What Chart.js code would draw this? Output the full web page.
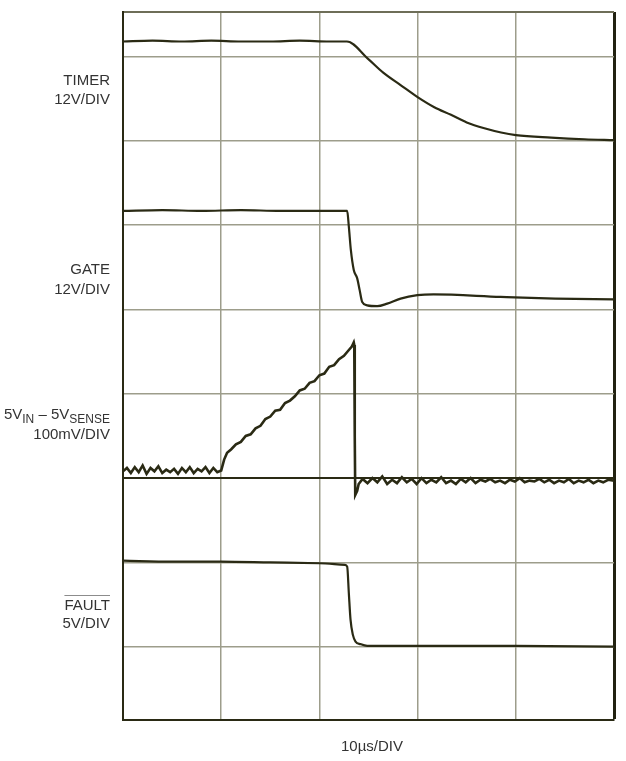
<!DOCTYPE html>
<html>
<head>
<meta charset="utf-8">
<script src="https://cdn.jsdelivr.net/npm/chart.js@4"></script>
<style>
    html, body { margin: 0; padding: 0; background: #fff; }
    #wrap { position: relative; width: 626px; height: 761px; }
    .lbl {
        position: absolute;
        right: 516px;
        font-family: "Liberation Sans", Arial, sans-serif;
        font-size: 15px;
        line-height: 19px;
        color: #333;
        white-space: nowrap;
        text-align: right;
    }
    .lbl sub { font-size: 12px; vertical-align: -4px; line-height: 0; }
    .bar { text-decoration: overline; text-decoration-color: #8c8c8c; }
    #xlbl { position: absolute; left: 302px; width: 140px; top: 736px; text-align: center;
        font-family: "Liberation Sans", Arial, sans-serif; font-size: 15px; line-height: 19px; color: #333; }
</style>
</head>
<body>
<div id="wrap">
    <canvas id="chart"></canvas>
    <div class="lbl" style="top:70px">TIMER</div>
    <div class="lbl" style="top:89px">12V/DIV</div>
    <div class="lbl" style="top:259px">GATE</div>
    <div class="lbl" style="top:279px">12V/DIV</div>
    <div class="lbl" style="top:404px">5V<sub>IN</sub> – 5V<sub>SENSE</sub></div>
    <div class="lbl" style="top:424px">100mV/DIV</div>
    <div class="lbl" style="top:595px"><span class="bar">FAULT</span></div>
    <div class="lbl" style="top:613px">5V/DIV</div>
    <div id="xlbl">10µs/DIV</div>
</div>
<script>
// time in µs, levels in screen divisions (grid row 1 = lowest inner line)
const timeTicks = [0, 10, 20, 30, 40, 50];
const gridRows = [0.13, 1, 2, 3, 4, 5, 6, 7, 8, 8.53];
const zeroRow = 3;

const timerT = [0, 3, 6, 9, 12, 15, 18, 21, 22.8, 24.9, 26.5, 28.3, 30, 31.7, 33.4, 35, 36.8, 38.5, 40, 43.6, 47, 50];
const timerV = [8.18, 8.19, 8.18, 8.19, 8.18, 8.18, 8.19, 8.18, 8.18, 7.98, 7.81, 7.66, 7.52, 7.40, 7.31, 7.22, 7.15, 7.10, 7.07, 7.04, 7.02, 7.01];

const gateT = [0, 4, 8, 12, 16, 20, 22.83, 23.0, 23.2, 23.5, 23.85, 24.1, 24.36, 24.87, 25.89, 26.91, 28.27, 29.97, 31.63, 38.46, 44, 50];
const gateV = [6.17, 6.18, 6.17, 6.18, 6.17, 6.17, 6.17, 5.98, 5.71, 5.47, 5.37, 5.23, 5.09, 5.05, 5.04, 5.07, 5.13, 5.17, 5.18, 5.15, 5.13, 5.12];

const senseT = [
    0, 0.4, 0.8, 1.2, 1.6, 2.0, 2.4, 2.8, 3.2, 3.6, 4.0, 4.4, 4.8, 5.2, 5.6, 6.0, 6.4, 6.8, 7.2, 7.6, 8.0, 8.4, 8.8, 9.2, 9.6, 10.0,
    10.3, 10.6, 11.0, 11.5, 12.0, 12.5, 13.0, 13.5, 14.0, 14.5, 15.0, 15.5, 16.0, 16.5, 17.0, 17.5, 18.0, 18.5, 19.0, 19.5,
    20.0, 20.5, 21.0, 21.5, 22.0, 22.5, 23.0, 23.3, 23.5, 23.55, 23.6, 23.65, 23.85, 24.0,
    24.4, 24.9, 25.4, 25.9, 26.4, 26.9, 27.4, 27.9, 28.4, 28.9, 29.4, 29.9, 30.4, 30.9, 31.4, 31.9, 32.4, 32.9, 33.4, 33.9,
    34.4, 34.9, 35.4, 35.9, 36.4, 36.9, 37.4, 37.9, 38.4, 38.9, 39.4, 39.9, 40.4, 40.9, 41.4, 41.9, 42.4, 42.9, 43.4, 43.9,
    44.4, 44.9, 45.4, 45.9, 46.4, 46.9, 47.4, 47.9, 48.4, 48.9, 49.4, 50.0
];
const senseV = [
    3.08, 3.12, 3.06, 3.13, 3.07, 3.15, 3.05, 3.12, 3.08, 3.14, 3.06, 3.10, 3.07, 3.11, 3.05, 3.12, 3.07, 3.13, 3.06, 3.11, 3.08, 3.13, 3.06, 3.12, 3.07, 3.09,
    3.22, 3.30, 3.34, 3.40, 3.43, 3.50, 3.52, 3.59, 3.62, 3.70, 3.73, 3.80, 3.81, 3.89, 3.92, 3.97, 4.04, 4.06, 4.13, 4.15,
    4.22, 4.24, 4.32, 4.34, 4.41, 4.45, 4.52, 4.56, 4.61, 4.58, 3.50, 2.80, 2.85, 2.93,
    2.99, 2.94, 3.00, 2.95, 3.02, 2.93, 2.98, 2.94, 3.01, 2.95, 2.99, 2.93, 3.00, 2.94, 2.98, 2.95, 3.01, 2.94, 2.97, 2.93,
    2.99, 2.95, 3.00, 2.94, 2.98, 2.96, 2.99, 2.95, 2.97, 2.94, 2.98, 2.96, 3.00, 2.95, 2.97, 2.96, 2.99, 2.95, 2.98, 2.94,
    2.97, 2.95, 2.99, 2.94, 2.97, 2.95, 2.98, 2.94, 2.97, 2.95, 2.98, 2.97
];

const faultT = [0, 5, 10, 15, 20, 22.6, 22.83, 23.0, 23.17, 23.41, 23.68, 24.19, 24.87, 30, 40, 50];
const faultV = [2.02, 2.01, 2.01, 2.00, 1.99, 1.97, 1.95, 1.63, 1.32, 1.14, 1.06, 1.03, 1.01, 1.01, 1.01, 1.00];

const traceColor = '#2a2a14';
const gridColor = '#9d9d8b';

const pts = (ts, vs) => ts.map((t, i) => ({ x: t, y: vs[i] }));

const trace = (label, ts, vs, smooth, width) => ({
    label,
    data: pts(ts, vs),
    borderColor: traceColor,
    borderWidth: width,
    pointRadius: 0,
    cubicInterpolationMode: smooth ? 'monotone' : 'default',
    tension: 0
});

const first = a => a[0];
const last = a => a[a.length - 1];

new Chart(document.getElementById('chart'), {
    type: 'line',
    data: {
        datasets: [
            trace('TIMER', timerT, timerV, true, 2.2),
            trace('GATE', gateT, gateV, true, 2.2),
            trace('SENSE', senseT, senseV, false, 2.6),
            trace('FAULT', faultT, faultV, true, 2.2)
        ]
    },
    options: {
        responsive: true,
        maintainAspectRatio: false,
        animation: false,
        layout: { padding: { left: 123, right: 12, top: 12, bottom: 41 } },
        plugins: { legend: { display: false }, tooltip: { enabled: false } },
        scales: {
            x: {
                type: 'linear',
                min: first(timeTicks),
                max: last(timeTicks),
                afterBuildTicks: s => { s.ticks = timeTicks.map(v => ({ value: v })); },
                ticks: { display: false },
                grid: {
                    drawTicks: false,
                    color: c => c.tick.value === last(timeTicks) ? '#222211' : gridColor,
                    lineWidth: c => c.tick.value === last(timeTicks) ? 3 : 1.5
                },
                border: { display: true, color: '#2a2a14', width: 2 }
            },
            y: {
                type: 'linear',
                min: first(gridRows),
                max: last(gridRows),
                afterBuildTicks: s => { s.ticks = gridRows.map(v => ({ value: v })); },
                ticks: { display: false },
                grid: {
                    drawTicks: false,
                    color: c => {
                        if (c.tick.value === zeroRow) return traceColor;
                        if (c.tick.value === last(gridRows)) return '#6e6e58';
                        return gridColor;
                    },
                    lineWidth: c => c.tick.value === zeroRow ? 2 : (c.tick.value === last(gridRows) ? 2 : 1.5)
                },
                border: { display: true, color: '#2a2a14', width: 2 }
            }
        }
    }
});
</script>
</body>
</html>
